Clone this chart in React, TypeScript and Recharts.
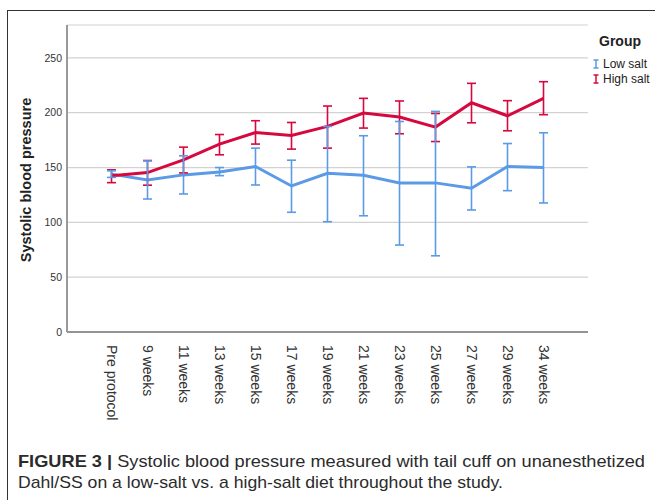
import React from "react";
import { LineChart, Line, XAxis, YAxis, CartesianGrid, ErrorBar } from "recharts";

const categories = [
  "Pre protocol", "9 weeks", "11 weeks", "13 weeks", "15 weeks", "17 weeks", "19 weeks",
  "21 weeks", "23 weeks", "25 weeks", "27 weeks", "29 weeks", "34 weeks",
];

// group means and error bar ends
const lowSaltMean = [144, 138.7, 143.3, 146, 150.9, 133.2, 144.8, 143, 136, 136, 131.1, 150.9, 150];
const lowSaltLow = [141, 121.3, 125.9, 142.6, 134.1, 109.2, 100.6, 106, 79.3, 69.5, 111.3, 128.9, 117.7];
const lowSaltHigh = [147, 156, 160.7, 150, 167.7, 156.7, 187.5, 179, 192, 201.2, 150.6, 171.9, 181.7];

const highSaltMean = [142.6, 145.4, 157, 171.4, 182, 179.2, 187.5, 199.7, 196, 186.9, 209.1, 197.2, 213.1];
const highSaltLow = [136.2, 133.9, 145.1, 161.6, 171.4, 166.8, 167.7, 186, 180.8, 173.7, 190.8, 183.5, 198.2];
const highSaltHigh = [147.9, 156.4, 168.6, 180.1, 192.7, 191.1, 206.1, 213.1, 210.7, 199.3, 226.8, 211, 228.3];

const yTicks = [0, 50, 100, 150, 200, 250];

const groups = [
  { name: "Low salt", color: "#5b9ae6" },
  { name: "High salt", color: "#d6093f" },
];

const data = categories.map((c, i) => ({
  week: c,
  low: lowSaltMean[i],
  lowErr: [lowSaltMean[i] - lowSaltLow[i], lowSaltHigh[i] - lowSaltMean[i]],
  high: highSaltMean[i],
  highErr: [highSaltMean[i] - highSaltLow[i], highSaltHigh[i] - highSaltMean[i]],
}));

const FONT = "'Liberation Sans', Arial, Helvetica, sans-serif";

const XTick = (props: any) => {
  const { x, y, payload } = props;
  return (
    <text
      x={x}
      y={y + 5}
      dy="0.35em"
      transform={`rotate(90 ${x} ${y + 5})`}
      textAnchor="start"
      fontSize={14}
      fontFamily={FONT}
      fill="#333"
    >
      {payload.value}
    </text>
  );
};

const YTick = (props: any) => {
  const { y, payload } = props;
  return (
    <text x={62} y={y} dy="0.35em" textAnchor="end" fontSize={10.5} fontFamily={FONT} fill="#333">
      {payload.value}
    </text>
  );
};

const ErrIcon = ({ color }: { color: string }) => (
  <svg width={6} height={10} style={{ marginRight: 4 }}>
    <line x1={3} y1={1} x2={3} y2={9} stroke={color} strokeWidth={1.5} />
    <line x1={0.5} y1={1} x2={5.5} y2={1} stroke={color} strokeWidth={1.5} />
    <line x1={0.5} y1={9} x2={5.5} y2={9} stroke={color} strokeWidth={1.5} />
  </svg>
);

export default function App() {
  return (
    <div style={{ position: "absolute", left: 0, top: 0, width: 655, height: 500, background: "#fff", overflow: "hidden", fontFamily: FONT }}>
      {/* frame round the figure */}
      <div style={{ position: "absolute", left: 7, top: 9.5, width: 700, height: 600, borderTop: "1.5px solid #333", borderLeft: "1.5px solid #333" }} />

      <div style={{ position: "absolute", left: 0, top: 0 }}>
        <LineChart width={655} height={440} data={data} margin={{ top: 25, right: 67, bottom: 0, left: 0 }}>
          <CartesianGrid vertical={false} stroke="#d2d2d2" strokeWidth={1.2} />
          <XAxis
            dataKey="week"
            interval={0}
            height={108}
            padding={{ left: 44.5, right: 44.5 }}
            axisLine={{ stroke: "#777", strokeWidth: 1.5 }}
            tickLine={false}
            tick={<XTick />}
          />
          <YAxis
            width={67}
            domain={[0, 280]}
            ticks={yTicks}
            allowDataOverflow
            axisLine={{ stroke: "#999", strokeWidth: 2 }}
            tickLine={false}
            tick={<YTick />}
            label={{
              content: () => (
                <text
                  x={26}
                  y={180}
                  transform="rotate(-90 26 180)"
                  textAnchor="middle"
                  dy="0.35em"
                  fontSize={14.5}
                  fontWeight="bold"
                  fontFamily={FONT}
                  fill="#222"
                >
                  Systolic blood pressure
                </text>
              ),
            }}
          />
          <Line dataKey="low" stroke={groups[0].color} strokeWidth={3} dot={false} activeDot={false} isAnimationActive={false} />
          <Line dataKey="high" stroke={groups[1].color} strokeWidth={3} dot={false} activeDot={false} isAnimationActive={false} />
          <Line dataKey="high" stroke="none" dot={false} activeDot={false} isAnimationActive={false}>
            <ErrorBar dataKey="highErr" direction="y" width={4.5} stroke={groups[1].color} strokeWidth={1.6} isAnimationActive={false} />
          </Line>
          <Line dataKey="low" stroke="none" dot={false} activeDot={false} isAnimationActive={false}>
            <ErrorBar dataKey="lowErr" direction="y" width={4.5} stroke={groups[0].color} strokeWidth={1.6} isAnimationActive={false} />
          </Line>
        </LineChart>
      </div>

      {/* legend */}
      <div style={{ position: "absolute", left: 599, top: 33, fontSize: 14, fontWeight: "bold", color: "#222" }}>Group</div>
      {groups.map((g, i) => (
        <div
          key={g.name}
          style={{ position: "absolute", left: 593, top: 57 + i * 15, fontSize: 12, color: "#222", display: "flex", alignItems: "center", whiteSpace: "nowrap" }}
        >
          <ErrIcon color={g.color} />
          {g.name}
        </div>
      ))}

      {/* caption */}
      <svg style={{ position: "absolute", left: 0, top: 440 }} width={655} height={60}>
        <text x={18} y={26.7} fontSize={17} fontFamily={FONT} fill="#2b2b2b" textLength={627} lengthAdjust="spacingAndGlyphs">
          <tspan fontWeight="bold">FIGURE 3 | </tspan>
          Systolic blood pressure measured with tail cuff on unanesthetized
        </text>
        <text x={18} y={48} fontSize={17} fontFamily={FONT} fill="#2b2b2b" textLength={485} lengthAdjust="spacingAndGlyphs">
          Dahl/SS on a low-salt vs. a high-salt diet throughout the study.
        </text>
      </svg>
    </div>
  );
}
